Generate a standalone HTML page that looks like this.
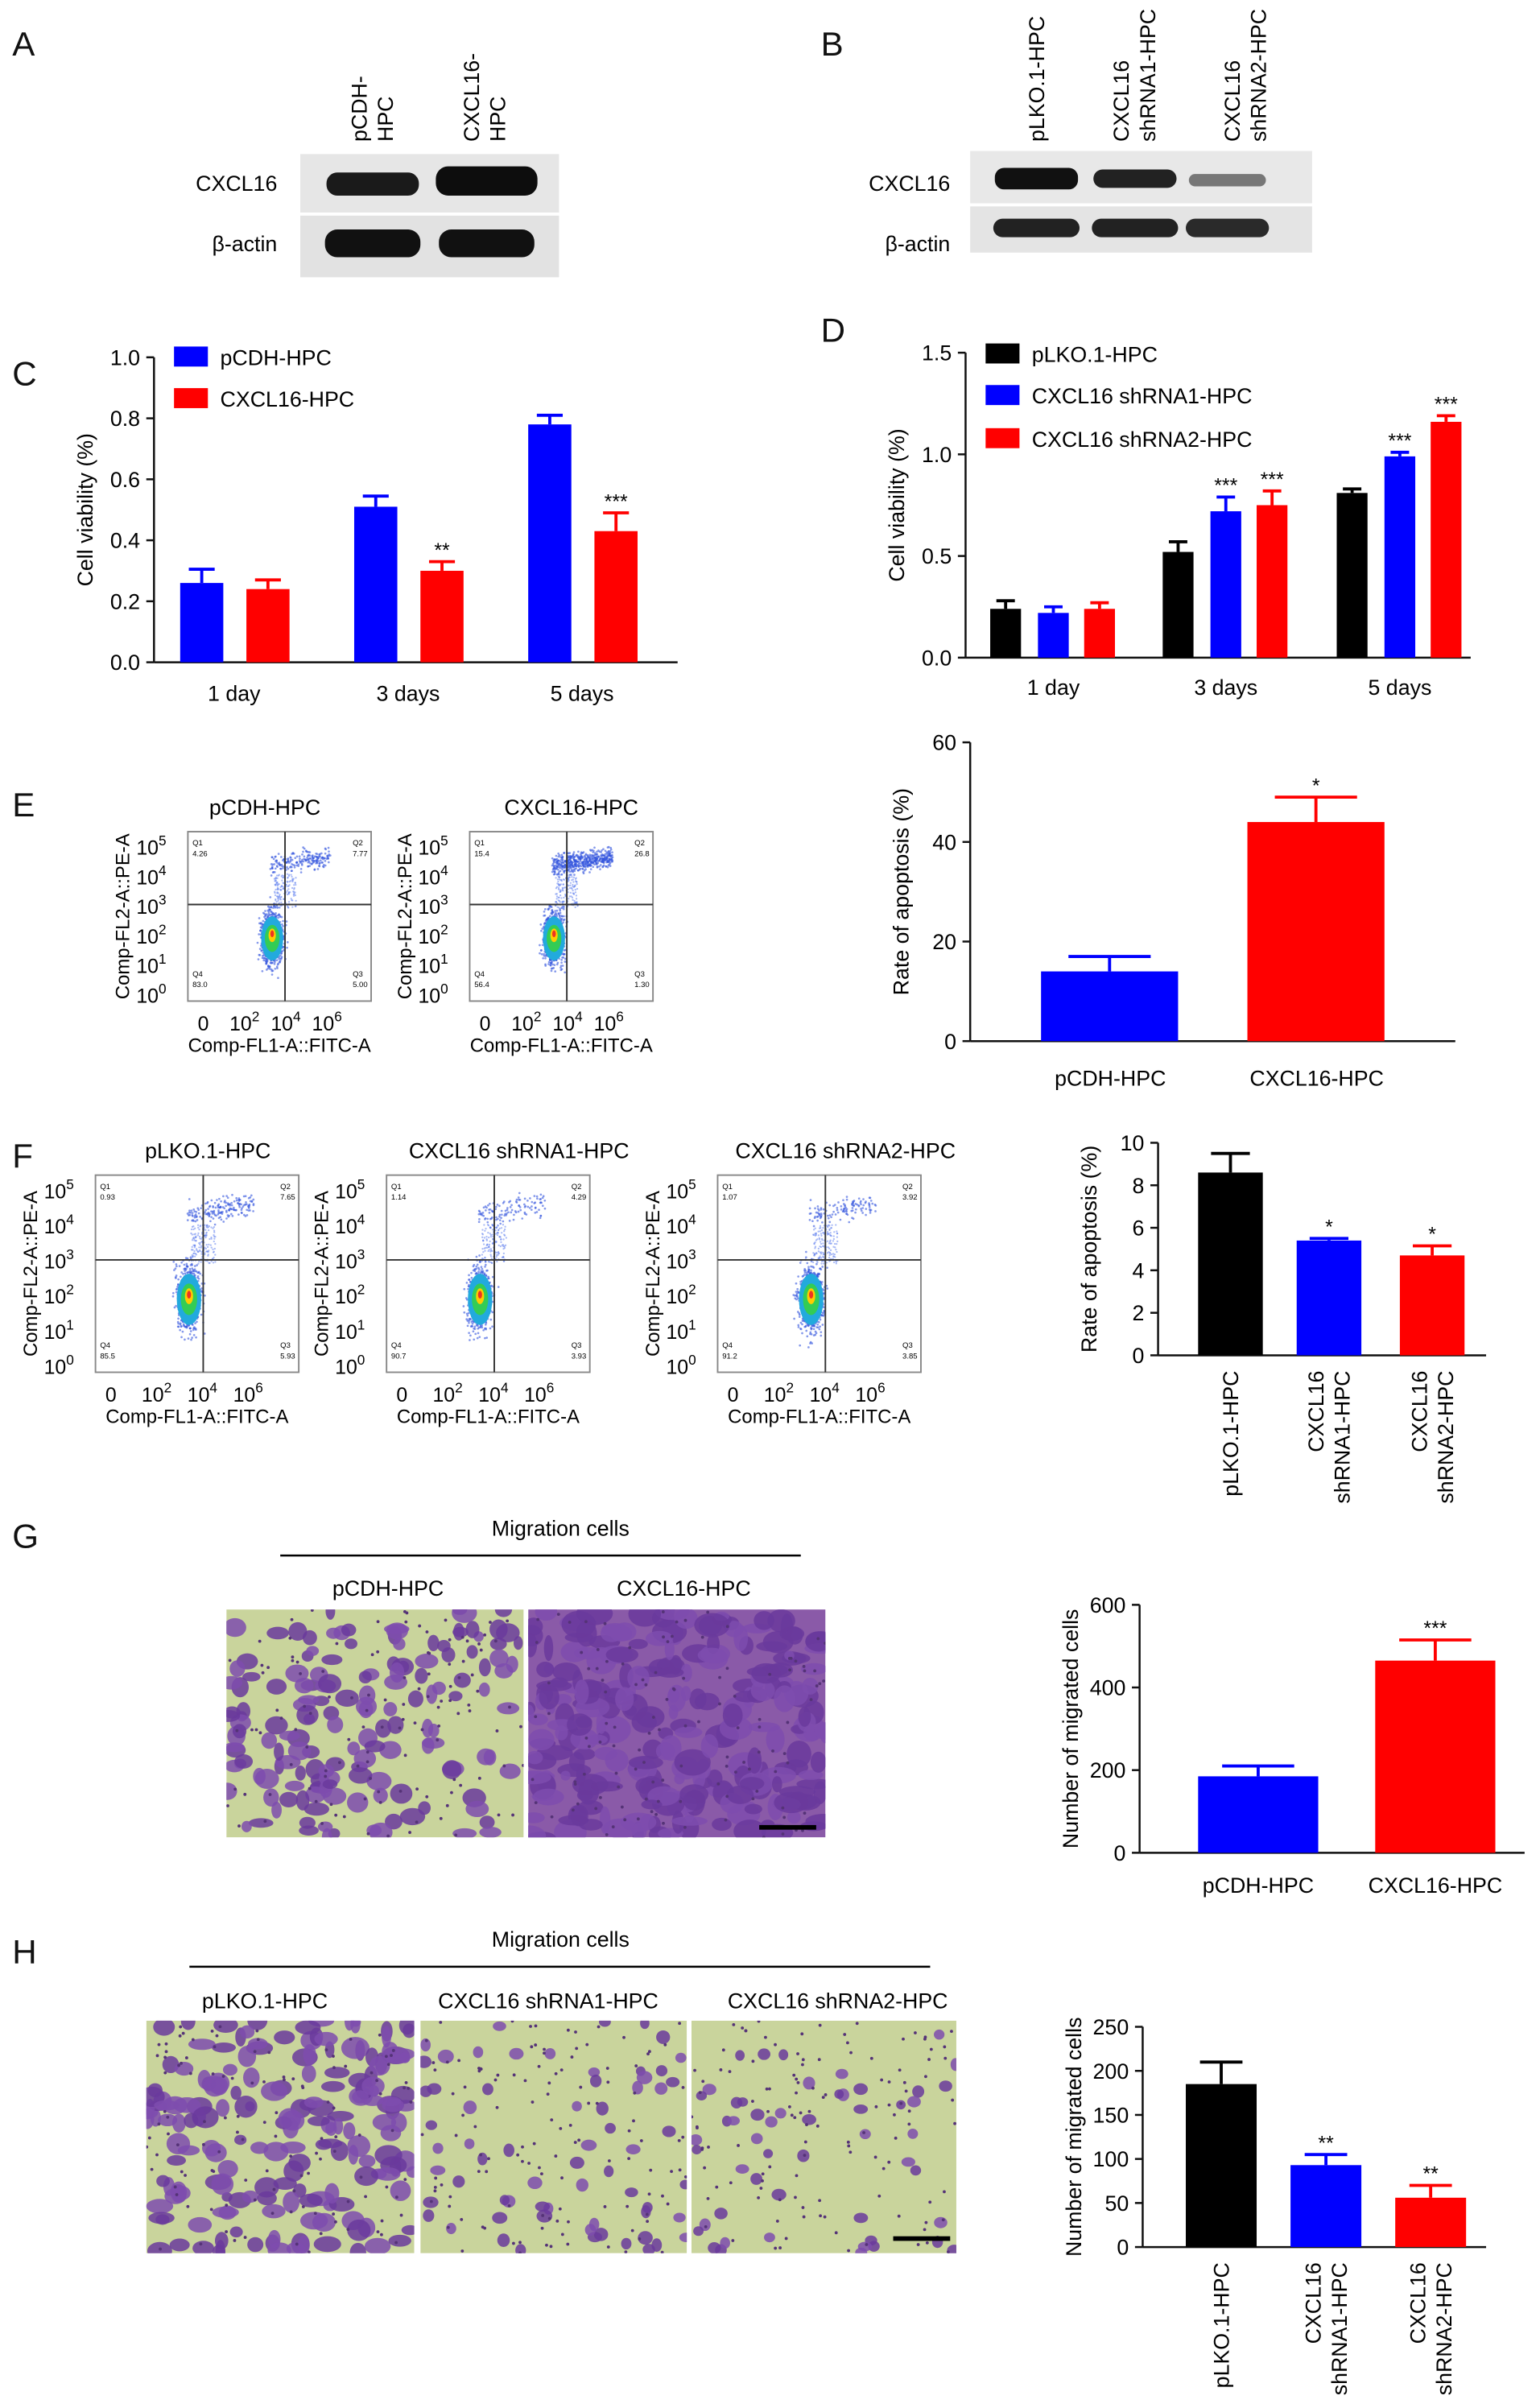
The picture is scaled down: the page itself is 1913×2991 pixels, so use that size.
<!DOCTYPE html>
<html><head><meta charset="utf-8"><style>
html,body{margin:0;padding:0;background:#fff}
svg{display:block;font-family:"Liberation Sans",Arial,sans-serif}
</style></head><body>
<svg id="fig" xmlns="http://www.w3.org/2000/svg" width="1913" height="2991" viewBox="0 0 1000 1563.5">
<defs id="defs"></defs>
<rect width="1000" height="1563.5" fill="#fff"/>
<g font-size="22" fill="#111">
<text x="8" y="36">A</text><text x="533" y="36">B</text>
<text x="8" y="250">C</text><text x="533" y="222">D</text>
<text x="8" y="530">E</text><text x="8" y="758">F</text>
<text x="8" y="1005">G</text><text x="8" y="1275">H</text>
</g>
<g>
<rect x="195" y="100" width="168" height="38" fill="#e6e6e6"/>
<rect x="195" y="140" width="168" height="40" fill="#e2e2e2"/>
<rect x="212" y="112" width="60" height="15" rx="7" fill="#1a1a1a"/>
<rect x="283" y="108" width="66" height="19" rx="8" fill="#0d0d0d"/>
<rect x="211" y="149" width="62" height="18" rx="8" fill="#111"/>
<rect x="285" y="149" width="62" height="18" rx="8" fill="#111"/>
<text x="180" y="124" font-size="14" text-anchor="end">CXCL16</text>
<text x="180" y="163" font-size="14" text-anchor="end">β-actin</text>
<text transform="translate(238,92) rotate(-90)" font-size="14">pCDH-</text>
<text transform="translate(255,92) rotate(-90)" font-size="14">HPC</text>
<text transform="translate(311,92) rotate(-90)" font-size="14">CXCL16-</text>
<text transform="translate(328,92) rotate(-90)" font-size="14">HPC</text>
</g>
<g>
<rect x="630" y="98" width="222" height="34" fill="#e8e8e8"/>
<rect x="630" y="134" width="222" height="30" fill="#e4e4e4"/>
<rect x="646" y="109" width="54" height="14" rx="6" fill="#111"/>
<rect x="710" y="110" width="54" height="12" rx="6" fill="#222"/>
<rect x="772" y="113" width="50" height="8" rx="4" fill="#777"/>
<rect x="645" y="142" width="56" height="12" rx="6" fill="#222"/>
<rect x="709" y="142" width="56" height="12" rx="6" fill="#222"/>
<rect x="770" y="142" width="54" height="12" rx="6" fill="#2a2a2a"/>
<text x="617" y="124" font-size="14" text-anchor="end">CXCL16</text>
<text x="617" y="163" font-size="14" text-anchor="end">β-actin</text>
<text transform="translate(678,92) rotate(-90)" font-size="14">pLKO.1-HPC</text>
<text transform="translate(733,92) rotate(-90)" font-size="14">CXCL16</text>
<text transform="translate(750,92) rotate(-90)" font-size="14">shRNA1-HPC</text>
<text transform="translate(805,92) rotate(-90)" font-size="14">CXCL16</text>
<text transform="translate(822,92) rotate(-90)" font-size="14">shRNA2-HPC</text>
</g>
<g id="charts"></g>
<g id="flows"></g>
<g id="micro"></g>
</svg>
<script>
const NS="http://www.w3.org/2000/svg";
const root=document.getElementById('charts');
function el(tag,attrs,parent,txt){const e=document.createElementNS(NS,tag);for(const k in attrs)e.setAttribute(k,attrs[k]);if(txt!==undefined)e.textContent=txt;(parent||root).appendChild(e);return e;}

const cCats=["1 day","3 days","5 days"];
const cBlue=[0.26,0.51,0.78];const cBlueErr=[0.045,0.035,0.03];
const cRed=[0.24,0.30,0.43];const cRedErr=[0.03,0.03,0.06];
const cRedStars=["","**","***"];
const cTicks=["0.0","0.2","0.4","0.6","0.8","1.0"];

const dCats=["1 day","3 days","5 days"];
const dBlack=[0.24,0.52,0.81];const dBlackErr=[0.04,0.05,0.02];
const dBlue=[0.22,0.72,0.99];const dBlueErr=[0.03,0.07,0.02];
const dRed=[0.24,0.75,1.16];const dRedErr=[0.03,0.07,0.03];
const dBlueStars=["","***","***"];const dRedStars=["","***","***"];
const dTicks=["0.0","0.5","1.0","1.5"];

const eCats=["pCDH-HPC","CXCL16-HPC"];const eVals=[14,44];const eErr=[3,5];const eStars=["","*"];
const eTicks=["0","20","40","60"];
const fCats=["pLKO.1-HPC","CXCL16|shRNA1-HPC","CXCL16|shRNA2-HPC"];const fVals=[8.6,5.4,4.7];const fErr=[0.9,0.1,0.45];const fStars=["","*","*"];
const fTicks=["0","2","4","6","8","10"];
const gCats=["pCDH-HPC","CXCL16-HPC"];const gVals=[185,465];const gErr=[25,50];const gStars=["","***"];
const gTicks=["0","200","400","600"];
const hCats=["pLKO.1-HPC","CXCL16|shRNA1-HPC","CXCL16|shRNA2-HPC"];const hVals=[185,93,56];const hErr=[25,12,14];const hStars=["","**","**"];
const hTicks=["0","50","100","150","200","250"];

function axis(g,x0,y0,y1,x1,ticks,max,label,fs){
  const ys=v=>y0-(v/max)*(y0-y1);
  el('line',{x1:x0,y1:y0,x2:x0,y2:y1,stroke:'#111','stroke-width':1.3},g);
  el('line',{x1:x0,y1:y0,x2:x1,y2:y0,stroke:'#111','stroke-width':1.3},g);
  ticks.forEach(t=>{const y=ys(parseFloat(t));
    el('line',{x1:x0-5,y1:y,x2:x0,y2:y,stroke:'#111','stroke-width':1.3},g);
    el('text',{x:x0-9,y:y+5,'font-size':fs||14,'text-anchor':'end'},g,t);});
  const tl=el('text',{transform:`translate(${x0-40},${(y0+y1)/2}) rotate(-90)`,'font-size':fs||14,'text-anchor':'middle'},g,label);
  
  
  return ys;
}
function bar(g,x,w,v,err,ys,y0,col,star,name){
  const r=el('rect',{x:x,y:ys(v),width:w,height:y0-ys(v),fill:col},g);
  
  
  const c=x+w/2,ye=ys(v+err);
  el('line',{x1:c,y1:ys(v),x2:c,y2:ye,stroke:col,'stroke-width':2},g);
  el('line',{x1:c-w*0.3,y1:ye,x2:c+w*0.3,y2:ye,stroke:col,'stroke-width':2},g);
  if(star)el('text',{x:c,y:ye-3,'font-size':13,'text-anchor':'middle'},g,star);
}
function legend(g,x,y,col,txt){
  const r=el('rect',{x:x,y:y,width:22,height:13,fill:col},g);
  
  
  el('text',{x:x+30,y:y+12,'font-size':14},g,txt);
}
function rotLabels(g,cx,y,txt){
  const parts=txt.split('|');
  parts.forEach((p,i)=>{el('text',{transform:`translate(${cx+5+(i-(parts.length-1)/2)*17},${y}) rotate(-90)`,'font-size':14,'text-anchor':'end'},g,p);});
}

{const g=el('g',{});
 const ys=axis(g,100,430,232,440,cTicks,1.0,'Cell viability (%)');
 const gx=[117,230,343];
 cCats.forEach((c,i)=>{bar(g,gx[i],28,cBlue[i],cBlueErr[i],ys,430,'#0000ff','','bar-blue-'+i);
   bar(g,gx[i]+43,28,cRed[i],cRedErr[i],ys,430,'#ff0000',cRedStars[i],'bar-red-'+i);
   el('text',{x:gx[i]+35,y:455,'font-size':14,'text-anchor':'middle'},g,c);});
 legend(g,113,225,'#0000ff','pCDH-HPC');legend(g,113,252,'#ff0000','CXCL16-HPC');}
{const g=el('g',{});
 const ys=axis(g,627,427,229,955,dTicks,1.5,'Cell viability (%)');
 const gx=[643,755,868];
 dCats.forEach((c,i)=>{bar(g,gx[i],20,dBlack[i],dBlackErr[i],ys,427,'#000','','bar-black-'+i);
   bar(g,gx[i]+31,20,dBlue[i],dBlueErr[i],ys,427,'#0000ff',dBlueStars[i],'bar-blue-'+i);
   bar(g,gx[i]+61,20,dRed[i],dRedErr[i],ys,427,'#ff0000',dRedStars[i],'bar-red-'+i);
   el('text',{x:gx[i]+41,y:451,'font-size':14,'text-anchor':'middle'},g,c);});
 legend(g,640,223,'#000','pLKO.1-HPC');legend(g,640,250,'#0000ff','CXCL16 shRNA1-HPC');legend(g,640,278,'#ff0000','CXCL16 shRNA2-HPC');}
{const g=el('g',{});
 const ys=axis(g,630,676,482,945,eTicks,60,'Rate of apoptosis (%)');
 const xs=[676,810],cols=['#0000ff','#ff0000'];
 eCats.forEach((c,i)=>{bar(g,xs[i],89,eVals[i],eErr[i],ys,676,cols[i],eStars[i],'bar-'+i);
   el('text',{x:xs[i]+45,y:705,'font-size':14,'text-anchor':'middle'},g,c);});}
{const g=el('g',{});
 const ys=axis(g,752,880,742,965,fTicks,10,'Rate of apoptosis (%)');
 const xs=[778,842,909],cols=['#000','#0000ff','#ff0000'];
 fCats.forEach((c,i)=>{bar(g,xs[i],42,fVals[i],fErr[i],ys,880,cols[i],fStars[i],'bar-'+i);rotLabels(g,xs[i]+21,890,c);});}
{const g=el('g',{});
 const ys=axis(g,740,1203,1042,990,gTicks,600,'Number of migrated cells');
 const xs=[778,893],cols=['#0000ff','#ff0000'];
 gCats.forEach((c,i)=>{bar(g,xs[i],78,gVals[i],gErr[i],ys,1203,cols[i],gStars[i],'bar-'+i);
   el('text',{x:xs[i]+39,y:1229,'font-size':14,'text-anchor':'middle'},g,c);});}
{const g=el('g',{});
 const ys=axis(g,742,1459,1316,965,hTicks,250,'Number of migrated cells');
 const xs=[770,838,906],cols=['#000','#0000ff','#ff0000'];
 hCats.forEach((c,i)=>{bar(g,xs[i],46,hVals[i],hErr[i],ys,1459,cols[i],hStars[i],'bar-'+i);rotLabels(g,xs[i]+23,1469,c);});}

let seed=7;function rnd(){seed=(seed*16807)%2147483647;return seed/2147483647;}
function gauss(){return (rnd()+rnd()+rnd()+rnd()-2)/1.2;}
const defs=document.getElementById('defs');
let clipN=0;
function clip(x,y,w,h){const id='c'+(clipN++);const cp=el('clipPath',{id:id},defs);el('rect',{x:x,y:y,width:w,height:h},cp);return 'url(#'+id+')';}
const flows=document.getElementById('flows');
function flow(x,y,w,h,title,q,upper,tx){
  const g=el('g',{},flows);
  el('text',{x:tx,y:y-11,'font-size':14,'text-anchor':'middle'},g,title);
  el('rect',{x:x,y:y,width:w,height:h,fill:'#fff',stroke:'#888','stroke-width':1},g);
  const inner=el('g',{'clip-path':clip(x,y,w,h)},g);
  const qx=x+w*0.53,qy=y+h*0.43;
  const cx=x+w*0.46,cy=y+h*0.63;
  for(let i=0;i<700;i++){const px=cx+gauss()*w*0.06,py=cy+gauss()*h*0.17;
    el('circle',{cx:px,cy:py,r:0.7,fill:'#3355dd','fill-opacity':0.6},inner);}
  for(let i=0;i<upper;i++){const t=rnd();const px=x+w*(0.45+t*0.33),py=y+h*(0.2-t*0.05+gauss()*0.06);
    el('circle',{cx:px,cy:py,r:0.7,fill:'#3355dd','fill-opacity':0.6},inner);}
  for(let i=0;i<150;i++){const px=x+w*(0.47+rnd()*0.12),py=y+h*(0.25+rnd()*0.2);
    el('circle',{cx:px,cy:py,r:0.6,fill:'#5577ee','fill-opacity':0.5},inner);}
  el('ellipse',{cx:cx,cy:cy,rx:w*0.06,ry:h*0.13,fill:'#22aadd'},inner);
  el('ellipse',{cx:cx,cy:cy,rx:w*0.04,ry:h*0.08,fill:'#33cc55'},inner);
  el('ellipse',{cx:cx,cy:cy-2,rx:w*0.02,ry:h*0.04,fill:'#ffcc00'},inner);
  el('ellipse',{cx:cx,cy:cy-3,rx:w*0.01,ry:h*0.02,fill:'#ee3322'},inner);
  el('line',{x1:qx,y1:y,x2:qx,y2:y+h,stroke:'#333','stroke-width':1},g);
  el('line',{x1:x,y1:qy,x2:x+w,y2:qy,stroke:'#333','stroke-width':1},g);
  const qs=['Q1','Q2','Q4','Q3'];
  [[x+3,y+9],[x+w-12,y+9],[x+3,y+h-16],[x+w-12,y+h-16]].forEach((p,i)=>{
    el('text',{x:p[0],y:p[1],'font-size':5},g,qs[i]);el('text',{x:p[0],y:p[1]+7,'font-size':5},g,q[i]);});
  ['0','2','4','6'].forEach((t,i)=>{const xx=x+10+i*w*0.225;
    const tt=el('text',{x:xx,y:y+h+19,'font-size':13,'text-anchor':'middle'},g,t==='0'?'0':'10');
    if(t!=='0'){el('tspan',{dy:-6,'font-size':9},tt,t);}});
  for(let i=0;i<6;i++){const yy=y+10+i*(h-14)/5;
    const tt=el('text',{x:x-14,y:yy+5,'font-size':13,'text-anchor':'end'},g,'10');el('tspan',{dy:-6,'font-size':9},tt,String(5-i));}
  el('text',{x:x+w/2,y:y+h+33,'font-size':12.5,'text-anchor':'middle'},g,'Comp-FL1-A::FITC-A');
  el('text',{transform:`translate(${x-38},${y+h/2}) rotate(-90)`,'font-size':12.5,'text-anchor':'middle'},g,'Comp-FL2-A::PE-A');
}
flow(122,540,119,110,'pCDH-HPC',['4.26','7.77','83.0','5.00'],200,172);
flow(305,540,119,110,'CXCL16-HPC',['15.4','26.8','56.4','1.30'],500,371);
flow(62,763,132,128,'pLKO.1-HPC',['0.93','7.65','85.5','5.93'],180,135);
flow(251,763,132,128,'CXCL16 shRNA1-HPC',['1.14','4.29','90.7','3.93'],120,337);
flow(466,763,132,128,'CXCL16 shRNA2-HPC',['1.07','3.92','91.2','3.85'],120,549);

const micro=document.getElementById('micro');
function mimg(x,y,w,h,dens,name){
  const g=el('g',{'clip-path':clip(x,y,w,h)},micro);
  el('rect',{x:x,y:y,width:w,height:h,fill:dens>0.8?'#8a5aa8':'#c9d49c'},g);
  const n=Math.round(dens*260);
  for(let i=0;i<n;i++){el('ellipse',{cx:x+rnd()*w,cy:y+rnd()*h,rx:2+rnd()*9*dens+1,ry:2+rnd()*6*dens+1,fill:rnd()<0.5?'#6a3a9c':'#7e4cae','fill-opacity':0.85},g);}
  for(let i=0;i<120;i++){el('circle',{cx:x+rnd()*w,cy:y+rnd()*h,r:1,fill:'#553377'},g);}
}
mimg(147,1045,193,148,0.6,'micrograph-pcdh');
mimg(343,1045,193,148,1.0,'micrograph-cxcl16');
mimg(95,1312,174,151,0.7,'micrograph-plko');
mimg(273,1312,173,151,0.25,'micrograph-shrna1');
mimg(449,1312,172,151,0.2,'micrograph-shrna2');
el('rect',{x:493,y:1185,width:37,height:3,fill:'#000'},micro);
el('rect',{x:580,y:1452,width:37,height:3,fill:'#000'},micro);
const tg=el('g',{'font-size':14,'text-anchor':'middle'},micro);
el('text',{x:364,y:997},tg,'Migration cells');
el('line',{x1:182,y1:1010,x2:520,y2:1010,stroke:'#000','stroke-width':1.3},tg);
el('text',{x:252,y:1036},tg,'pCDH-HPC');el('text',{x:444,y:1036},tg,'CXCL16-HPC');
el('text',{x:364,y:1264},tg,'Migration cells');
el('line',{x1:123,y1:1277,x2:604,y2:1277,stroke:'#000','stroke-width':1.3},tg);
el('text',{x:172,y:1304},tg,'pLKO.1-HPC');el('text',{x:356,y:1304},tg,'CXCL16 shRNA1-HPC');el('text',{x:544,y:1304},tg,'CXCL16 shRNA2-HPC');
</script>
</body></html>
